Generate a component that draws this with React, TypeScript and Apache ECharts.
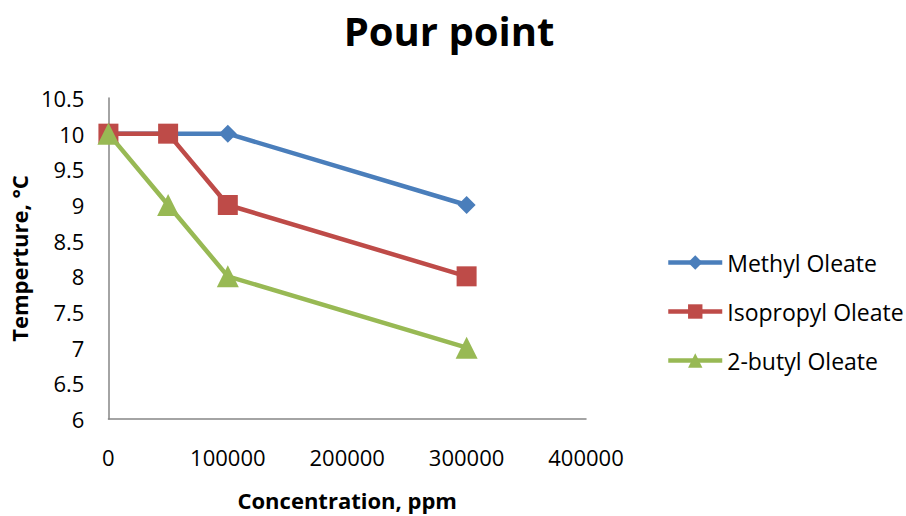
import React, { useEffect, useRef } from "react";
import * as echarts from "echarts";

const concentrations = [0, 50000, 100000, 300000];
const methylOleate = [10, 10, 10, 9];
const isopropylOleate = [10, 10, 9, 8];
const butylOleate = [10, 9, 8, 7];

const seriesNames = ["Methyl Oleate", "Isopropyl Oleate", "2-butyl Oleate"];
const seriesColors = ["#4A7EBB", "#BE4B48", "#98B954"];

const FONT = "'Open Sans', sans-serif";

export default function App() {
  const ref = useRef<HTMLDivElement>(null);

  useEffect(() => {
    if (!ref.current) return;
    const chart = echarts.init(ref.current, null, { renderer: "svg" });

    const pair = (ys: number[]) => concentrations.map((x, i) => [x, ys[i]]);

    const makeSeries = (name: string, color: string, ys: number[], symbol: string, size: number) => ({
      name,
      type: "line",
      data: pair(ys),
      symbol,
      symbolSize: size,
      showSymbol: true,
      lineStyle: { color, width: 4.5 },
      itemStyle: { color },
      emphasis: { disabled: true },
    });

    chart.setOption({
      animation: false,
      backgroundColor: "#ffffff",
      title: {
        text: "Pour point",
        left: 444,
        top: 5,
        textAlign: "center",
        textStyle: { fontFamily: FONT, fontSize: 40, fontWeight: "bold", color: "#000" },
      },
      grid: { left: 108, right: 320, top: 98, bottom: 91, containLabel: false },
      xAxis: {
        type: "value",
        min: 0,
        max: 400000,
        interval: 100000,
        name: "Concentration, ppm",
        nameLocation: "middle",
        nameGap: 70,
        nameTextStyle: { fontFamily: FONT, fontSize: 22, fontWeight: "bold", color: "#000" },
        axisLine: { show: true, lineStyle: { color: "#868686", width: 1.5 } },
        axisTick: { show: false },
        splitLine: { show: false },
        axisLabel: {
          fontFamily: FONT,
          fontSize: 22,
          color: "#000",
          margin: 27,
          formatter: (v: number) => String(v),
        },
      },
      yAxis: {
        type: "value",
        min: 6,
        max: 10.5,
        interval: 0.5,
        name: "Temperture, °C",
        nameLocation: "middle",
        nameGap: 72,
        nameTextStyle: { fontFamily: FONT, fontSize: 22, fontWeight: "bold", color: "#000" },
        axisLine: { show: true, lineStyle: { color: "#868686", width: 1.5 } },
        axisTick: { show: false },
        splitLine: { show: false },
        axisLabel: {
          fontFamily: FONT,
          fontSize: 22,
          color: "#000",
          margin: 24,
          formatter: (v: number) => String(v),
        },
      },
      legend: {
        orient: "vertical",
        left: 666,
        top: 251,
        padding: 0,
        itemWidth: 54,
        itemHeight: 18,
        itemGap: 26,
        data: seriesNames,
        lineStyle: { width: 4.5 },
        textStyle: { fontFamily: FONT, fontSize: 23, color: "#000" },
      },
      series: [
        makeSeries(seriesNames[0], seriesColors[0], methylOleate, "diamond", 18),
        makeSeries(seriesNames[1], seriesColors[1], isopropylOleate, "rect", 20),
        makeSeries(seriesNames[2], seriesColors[2], butylOleate, "triangle", 22),
      ],
    });

    return () => chart.dispose();
  }, []);

  return (
    <div
      ref={ref}
      style={{ position: "absolute", left: 0, top: 0, width: 906, height: 516 }}
    />
  );
}
